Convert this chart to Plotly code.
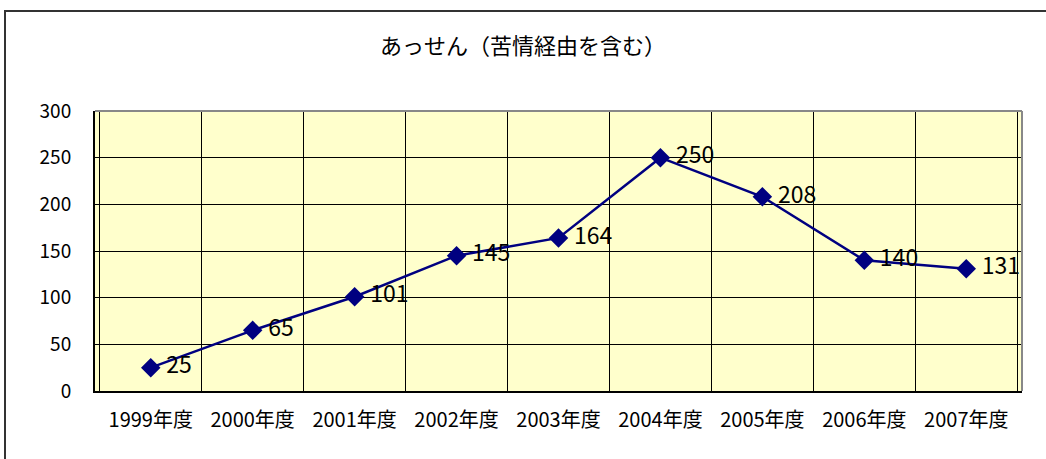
import plotly.graph_objects as go

categories = ["1999年度", "2000年度", "2001年度", "2002年度", "2003年度",
              "2004年度", "2005年度", "2006年度", "2007年度"]
values = [25, 65, 101, 145, 164, 250, 208, 140, 131]
title_text = "あっせん（苦情経由を含む）"
y_ticks = [0, 50, 100, 150, 200, 250, 300]

FONT = "Noto Sans CJK JP"

fig = go.Figure()
fig.add_trace(go.Scatter(
    x=categories, y=values,
    mode="lines+markers+text",
    line=dict(color="#000080", width=2.5),
    marker=dict(symbol="diamond", size=15, color="#000080"),
    text=[" " + str(v) for v in values],
    textposition="middle right",
    textfont=dict(family=FONT, size=23, color="#000000"),
    cliponaxis=False,
    showlegend=False,
))

fig.update_layout(
    width=1046, height=459,
    margin=dict(l=95, r=24, t=111, b=68),
    paper_bgcolor="white",
    plot_bgcolor="#FFFFCC",
    title=dict(text=title_text, x=0.5, xanchor="center", y=1 - 46/459, yanchor="middle",
               font=dict(family=FONT, size=22, color="#000000")),
    xaxis=dict(
        type="category", tickson="boundaries",
        showgrid=True, gridcolor="#000000", gridwidth=1,
        showline=True, linecolor="#000000", linewidth=2,
        ticks="inside", ticklen=5, tickcolor="#000000",
        tickfont=dict(family=FONT, size=20, color="#000000"),
        ticklabelstandoff=10,
        mirror=False, fixedrange=True,
    ),
    yaxis=dict(
        range=[0, 300], tickvals=y_ticks,
        showgrid=True, gridcolor="#000000", gridwidth=1,
        zeroline=False,
        showline=True, linecolor="#000000", linewidth=2,
        ticks="inside", ticklen=6, tickcolor="#000000",
        tickfont=dict(family=FONT, size=19, color="#000000"),
        ticklabelstandoff=18,
    ),
    shapes=[
        dict(type="line", xref="paper", yref="paper", x0=0, x1=1, y0=1, y1=1,
             line=dict(color="#888888", width=2)),
        dict(type="line", xref="paper", yref="paper", x0=1, x1=1, y0=0, y1=1,
             line=dict(color="#888888", width=2)),
        dict(type="rect", xref="paper", yref="paper",
             x0=-90/927, x1=1 + 40/927, y0=-90/280, y1=1 + 100/280,
             line=dict(color="#333333", width=2), layer="below"),
    ],
)

fig.write_html("out.html", config={"displayModeBar": False},
               post_script="document.body.style.margin='0';")
